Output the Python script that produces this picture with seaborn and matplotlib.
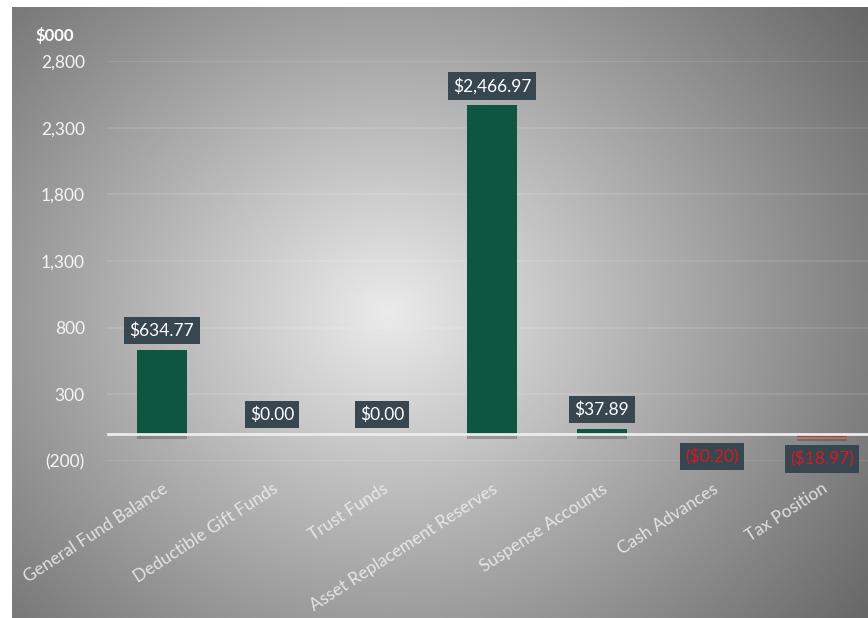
import numpy as np
import pandas as pd
import seaborn as sns
import matplotlib
matplotlib.use("Agg")
from matplotlib import pyplot as plt
from matplotlib import patheffects as pe

categories = ["General Fund Balance", "Deductible Gift Funds", "Trust Funds",
              "Asset Replacement Reserves", "Suspense Accounts", "Cash Advances",
              "Tax Position"]
values = [634.77, 0.00, 0.00, 2466.97, 37.89, -0.20, -18.97]
labels = ["$634.77", "$0.00", "$0.00", "$2,466.97", "$37.89", "($0.20)", "($18.97)"]
yticks = [-200, 300, 800, 1300, 1800, 2300, 2800]
yticklabels = ["(200)", "300", "800", "1,300", "1,800", "2,300", "2,800"]

sns.set_style("white")
plt.rcParams["font.family"] = ["Lato", "DejaVu Sans"]

fig = plt.figure(figsize=(8.68, 6.18), dpi=100)
fig.patch.set_facecolor("white")

# radial grey background
bg = fig.add_axes([12 / 868, 0, 856 / 868, 611 / 618])
yy, xx = np.mgrid[0:1:300j, 0:1:420j]
r = np.sqrt(((xx - 0.44) / 0.62) ** 2 + ((yy - 0.5) / 0.75) ** 2)
shade = np.clip(0.92 - 0.46 * r, 0.38, 1)
bg.imshow(shade, cmap="gray", vmin=0, vmax=1, aspect="auto",
          extent=[0, 1, 0, 1], interpolation="bicubic")
bg.axis("off")

ax = fig.add_axes([107 / 868, 157 / 618, 770 / 868, 400 / 618])
ax.patch.set_alpha(0)

df = pd.DataFrame({"category": categories, "value": values})
colors = ["#0f5640"] * 5 + ["#e02424", "#e02424"]
sns.barplot(data=df, x="category", y="value", hue="category", palette=colors,
            legend=False, width=0.45, ax=ax, saturation=1, linewidth=0)

for bar in ax.patches:
    bar.set_linewidth(0)
    bar.set_path_effects([pe.SimplePatchShadow(offset=(0, -3), alpha=0.3,
                                               shadow_rgbFace="#303030"),
                          pe.Normal()])

ax.set_ylim(-200, 2800)
ax.set_xlim(-0.5, 6.5)
ax.set_yticks(yticks)
ax.set_yticklabels(yticklabels)
ax.grid(axis="y", color="white", alpha=0.12, linewidth=1.2)
ax.set_axisbelow(True)
ax.axhline(0, color="#ececec", linewidth=2, zorder=1)
for s in ax.spines.values():
    s.set_visible(False)
ax.tick_params(axis="y", length=0, pad=16, labelsize=12.5, labelcolor="#f4f4f4")
ax.tick_params(axis="x", length=0, pad=14)
ax.set_xticks(range(len(categories)))
ax.set_xticklabels(categories, rotation=33, ha="right", va="top",
                   rotation_mode="anchor", fontsize=12.5, color="#f0f0f0",
                   alpha=0.85)
ax.set_xlabel("")
ax.set_ylabel("")

for i, (v, lab) in enumerate(zip(values, labels)):
    neg = v < 0
    off = -16 if neg else 14
    ax.annotate(lab, (i, v), xytext=(0, off), textcoords="offset points",
                ha="center", va="center", fontsize=12.5,
                color="#d01c24" if neg else "white",
                bbox=dict(boxstyle="square,pad=0.3", fc="#37464f", ec="none"))

fig.text(35 / 868, 1 - 36 / 618, "$000", fontsize=12, fontweight="bold",
         color="white", va="center", ha="left")

fig.savefig("out.png", dpi=100)
